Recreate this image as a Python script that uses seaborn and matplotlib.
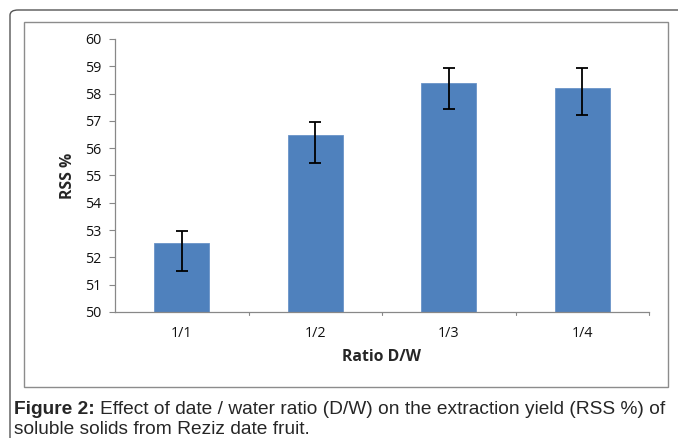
import matplotlib
matplotlib.use("Agg")
import matplotlib.pyplot as plt
import seaborn as sns
import pandas as pd
import numpy as np
from matplotlib.patches import Rectangle, FancyBboxPatch

categories = ["1/1", "1/2", "1/3", "1/4"]
rss_mean = [52.53, 56.47, 58.40, 58.19]
err_upper = [52.98, 56.96, 58.94, 58.94]
err_lower = [51.51, 55.47, 57.44, 57.23]
y_ticks = [50, 51, 52, 53, 54, 55, 56, 57, 58, 59, 60]

sns.set_theme(style="white")
plt.rcParams['font.family'] = ['Open Sans', 'DejaVu Sans']

fig = plt.figure(figsize=(6.78, 4.38), dpi=100)
ax = fig.add_axes([115/678, 1-312/438, (649-115)/678, (312-39)/438])

df = pd.DataFrame({"ratio": categories, "rss": rss_mean})
sns.barplot(data=df, x="ratio", y="rss", ax=ax, color="#4F81BD", saturation=1,
            width=0.41, errorbar=None, edgecolor="#6A93C8", linewidth=0.6)

mean = np.array(rss_mean)
yerr = np.vstack([mean - np.array(err_lower), np.array(err_upper) - mean])
ax.errorbar(np.arange(len(categories)), mean, yerr=yerr, fmt="none",
            ecolor="black", elinewidth=1.3, capsize=4, capthick=1.3)

ax.set_ylim(50, 60)
ax.set_xlim(-0.5, 3.5)
ax.set_yticks(y_ticks)
ax.set_yticklabels([str(t) for t in y_ticks], fontsize=10.3, color="#111111")
ax.tick_params(axis="x", length=0, labelsize=10.3, pad=10, labelcolor="#111111")
ax.tick_params(axis="y", length=4, width=0.8, color="#888888", left=True, pad=6)
for x in [0.5, 1.5, 2.5, 3.5]:
    ax.plot([x, x], [50, 49.88], color="#888888", lw=0.8, clip_on=False)
for s in ["top", "right"]:
    ax.spines[s].set_visible(False)
for s in ["left", "bottom"]:
    ax.spines[s].set_color("#888888")
    ax.spines[s].set_linewidth(0.9)

ax.set_xlabel("Ratio D/W", fontsize=11.3, fontweight="bold", labelpad=6)
ax.set_ylabel("RSS %", fontsize=11.3, fontweight="bold", labelpad=6)

# inner chart border
fig.patches.append(Rectangle((24/678, 1-387/438), (668-24)/678, (387-22)/438,
                             transform=fig.transFigure, fill=False,
                             edgecolor="#8c8c8c", linewidth=1.0))
# outer rounded frame
fig.patches.append(FancyBboxPatch((10/678, -0.1), 1.2, 1-10/438+0.1,
                                  boxstyle="round,pad=0,rounding_size=0.012",
                                  transform=fig.transFigure, fill=False,
                                  edgecolor="#555555", linewidth=1.0))

cap_font = ['Liberation Sans', 'DejaVu Sans']
cap_size = 13.8
t1 = fig.text(14/678, 1-414/438, "Figure 2:", fontsize=cap_size, fontweight="bold",
              family=cap_font, ha="left", va="baseline")
renderer = fig.canvas.get_renderer()
bb = t1.get_window_extent(renderer=renderer)
x_next = (bb.x1 + 5) / fig.bbox.width
fig.text(x_next, 1-414/438,
         "Effect of date / water ratio (D/W) on the extraction yield (RSS %) of",
         fontsize=cap_size, family=cap_font, ha="left", va="baseline")
fig.text(14/678, 1-434/438, "soluble solids from Reziz date fruit.",
         fontsize=cap_size, family=cap_font, ha="left", va="baseline")

fig.savefig("out.png", dpi=100)
